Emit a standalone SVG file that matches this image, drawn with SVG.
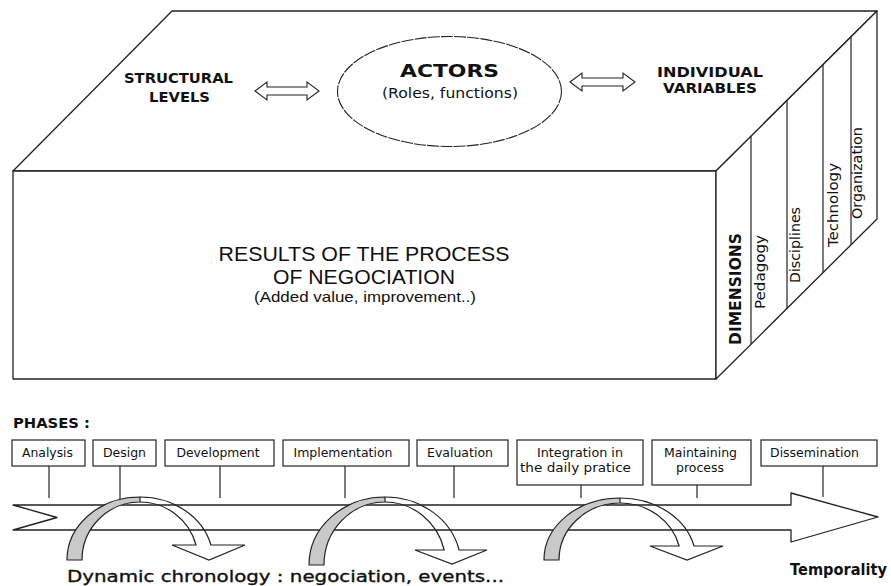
<svg xmlns="http://www.w3.org/2000/svg" width="891" height="586" viewBox="0 0 891 586">
<defs>
<style>
.ln{fill:none;stroke:#222;stroke-width:1.2}
.face{fill:#fff;stroke:#222;stroke-width:1.3;stroke-linejoin:round}
.box{fill:#fff;stroke:#222;stroke-width:1.2}
.dv{font-family:"DejaVu Sans",Verdana,sans-serif;fill:#111}
.b{font-weight:bold}
.lb{font-family:"DejaVu Sans",Verdana,sans-serif;font-size:12px;fill:#111;text-anchor:middle}
.ar{font-family:"Liberation Sans",Arial,sans-serif;fill:#111;text-anchor:middle}
.mid{text-anchor:middle}
.gray{fill:#c9c9c9;stroke:#222;stroke-width:1.2;stroke-linejoin:round}
.hollow{fill:#fff;stroke:#222;stroke-width:1.1;stroke-linejoin:miter}
</style>
</defs>
<rect width="891" height="586" fill="#fff"/>

<g id="cube">
  <polygon class="face" points="172,11 877,11 716,171 13,171"/>
  <rect class="face" x="13" y="171" width="703" height="208"/>
  <polygon class="face" points="716,171 877,11 877,219 716,379"/>
  <line class="ln" x1="751" y1="136.2" x2="751" y2="344.2"/>
  <line class="ln" x1="787" y1="100.4" x2="787" y2="308.4"/>
  <line class="ln" x1="823" y1="64.7" x2="823" y2="272.7"/>
  <line class="ln" x1="851" y1="36.8" x2="851" y2="244.8"/>
</g>

<g id="structural-levels">
  <text class="dv b mid" x="178.5" y="83" font-size="14.5" textLength="109" lengthAdjust="spacingAndGlyphs">STRUCTURAL</text>
  <text class="dv b mid" x="179.5" y="102" font-size="14.5" textLength="61" lengthAdjust="spacingAndGlyphs">LEVELS</text>
</g>

<g id="actors">
  <ellipse cx="449.5" cy="91.5" rx="112" ry="55" fill="none" stroke="#222" stroke-width="1.1" stroke-dasharray="12 1.2"/>
  <text class="dv b mid" x="449.5" y="77" font-size="18" textLength="99" lengthAdjust="spacingAndGlyphs">ACTORS</text>
  <text class="dv mid" x="450" y="98" font-size="14" textLength="136" lengthAdjust="spacingAndGlyphs">(Roles, functions)</text>
</g>

<g id="individual-variables">
  <text class="dv b mid" x="710" y="77" font-size="14.5" textLength="106" lengthAdjust="spacingAndGlyphs">INDIVIDUAL</text>
  <text class="dv b mid" x="710" y="93" font-size="14.5" textLength="94" lengthAdjust="spacingAndGlyphs">VARIABLES</text>
</g>

<g id="results">
  <text class="ar" x="364" y="261" font-size="21" textLength="291" lengthAdjust="spacingAndGlyphs">RESULTS OF THE PROCESS</text>
  <text class="ar" x="364" y="284" font-size="21" textLength="182" lengthAdjust="spacingAndGlyphs">OF NEGOCIATION</text>
  <text class="ar" x="365" y="302" font-size="15" textLength="222" lengthAdjust="spacingAndGlyphs">(Added value, improvement..)</text>
</g>

<g id="dimensions">
  <text class="dv b mid" transform="translate(741,289) rotate(-90)" font-size="15" textLength="112" lengthAdjust="spacingAndGlyphs">DIMENSIONS</text>
  <text class="dv mid" transform="translate(765,272) rotate(-90)" font-size="14" textLength="74" lengthAdjust="spacingAndGlyphs">Pedagogy</text>
  <text class="dv mid" transform="translate(799.5,245) rotate(-90)" font-size="14" textLength="76" lengthAdjust="spacingAndGlyphs">Disciplines</text>
  <text class="dv mid" transform="translate(837.5,205) rotate(-90)" font-size="14" textLength="84" lengthAdjust="spacingAndGlyphs">Technology</text>
  <text class="dv mid" transform="translate(862,173) rotate(-90)" font-size="14" textLength="92" lengthAdjust="spacingAndGlyphs">Organization</text>
</g>

<g id="phases-title">
  <text class="dv b" x="13" y="428" font-size="14.5" textLength="77" lengthAdjust="spacingAndGlyphs">PHASES :</text>
</g>

<g id="phase-analysis">
  <rect class="box" x="12" y="440" width="73" height="26"/>
  <text class="lb" x="47.5" y="457" textLength="51" lengthAdjust="spacingAndGlyphs">Analysis</text>
</g>
<g id="phase-design">
  <rect class="box" x="93" y="440" width="63" height="26"/>
  <text class="lb" x="124.5" y="457" textLength="43" lengthAdjust="spacingAndGlyphs">Design</text>
</g>
<g id="phase-development">
  <rect class="box" x="165" y="440" width="109" height="26"/>
  <text class="lb" x="218" y="457" textLength="83" lengthAdjust="spacingAndGlyphs">Development</text>
</g>
<g id="phase-implementation">
  <rect class="box" x="283" y="440" width="126" height="26"/>
  <text class="lb" x="343" y="457" textLength="99" lengthAdjust="spacingAndGlyphs">Implementation</text>
</g>
<g id="phase-evaluation">
  <rect class="box" x="417" y="440" width="91" height="26"/>
  <text class="lb" x="460" y="457" textLength="66" lengthAdjust="spacingAndGlyphs">Evaluation</text>
</g>
<g id="phase-integration">
  <rect class="box" x="517" y="440" width="126" height="45"/>
  <text class="lb" x="580" y="457" textLength="86" lengthAdjust="spacingAndGlyphs">Integration in</text>
  <text class="lb" x="575.5" y="472" textLength="111" lengthAdjust="spacingAndGlyphs">the daily pratice</text>
</g>
<g id="phase-maintaining">
  <rect class="box" x="652" y="440" width="99" height="45"/>
  <text class="lb" x="700.5" y="457" textLength="73" lengthAdjust="spacingAndGlyphs">Maintaining</text>
  <text class="lb" x="700" y="472" textLength="48" lengthAdjust="spacingAndGlyphs">process</text>
</g>
<g id="phase-dissemination">
  <rect class="box" x="761" y="440" width="116" height="26"/>
  <text class="lb" x="814.5" y="457" textLength="89" lengthAdjust="spacingAndGlyphs">Dissemination</text>
</g>

<g id="connectors">
  <polygon class="hollow" points="255,91 267,82 267,87 307,87 307,82 319,91 307,100 307,95 267,95 267,100"/>
  <polygon class="hollow" points="570,82 582,73 582,78 623,78 623,73 635,82 623,91 623,86 582,86 582,91"/>
  <line class="ln" x1="49" y1="466" x2="49" y2="498"/>
  <line class="ln" x1="120" y1="466" x2="120" y2="499"/>
  <line class="ln" x1="220" y1="466" x2="220" y2="498"/>
  <line class="ln" x1="345" y1="466" x2="345" y2="498"/>
  <line class="ln" x1="454" y1="466" x2="454" y2="498"/>
  <line class="ln" x1="581" y1="485" x2="581" y2="498"/>
  <line class="ln" x1="697" y1="485" x2="697" y2="498"/>
  <line class="ln" x1="823" y1="466" x2="823" y2="497"/>
</g>

<g id="timeline">
  <polygon class="face" points="13,505 791,505 791,493 878,517 791,542 791,530 13,530 57,517.5"/>
</g>

<g id="chronology-arcs">
  <path class="gray" d="M67,560 A73,63 0 0 1 140,497 L140,502 A58,58 0 0 0 82,560 Z"/>
  <path class="ln" d="M140,497 A73,63 0 0 1 210.9,545 L245,545 L209,560 L172,545 L196,545 A58,58 0 0 0 140,502"/>
  <path class="gray" d="M309,565 A76,68 0 0 1 385,497 L385,502 A61,63 0 0 0 324,565 Z"/>
  <path class="ln" d="M385,497 A76,68 0 0 1 459.1,550 L487,550 L452,564 L415,550 L444.2,550 A61,63 0 0 0 385,502"/>
  <path class="gray" d="M544,560 A76,62 0 0 1 620,498 L620,503 A61,57 0 0 0 559,560 Z"/>
  <path class="ln" d="M620,498 A76,62 0 0 1 694,546 L723,546 L687,560 L650,546 L679.1,546 A61,57 0 0 0 620,503"/>
</g>

<g id="captions">
  <text class="dv" x="67" y="582" font-size="16" textLength="437" lengthAdjust="spacingAndGlyphs" stroke="#111" stroke-width="0.35">Dynamic chronology : negociation, events...</text>
  <text class="dv b" x="790" y="575" font-size="15" textLength="97" lengthAdjust="spacingAndGlyphs">Temporality</text>
</g>
</svg>
